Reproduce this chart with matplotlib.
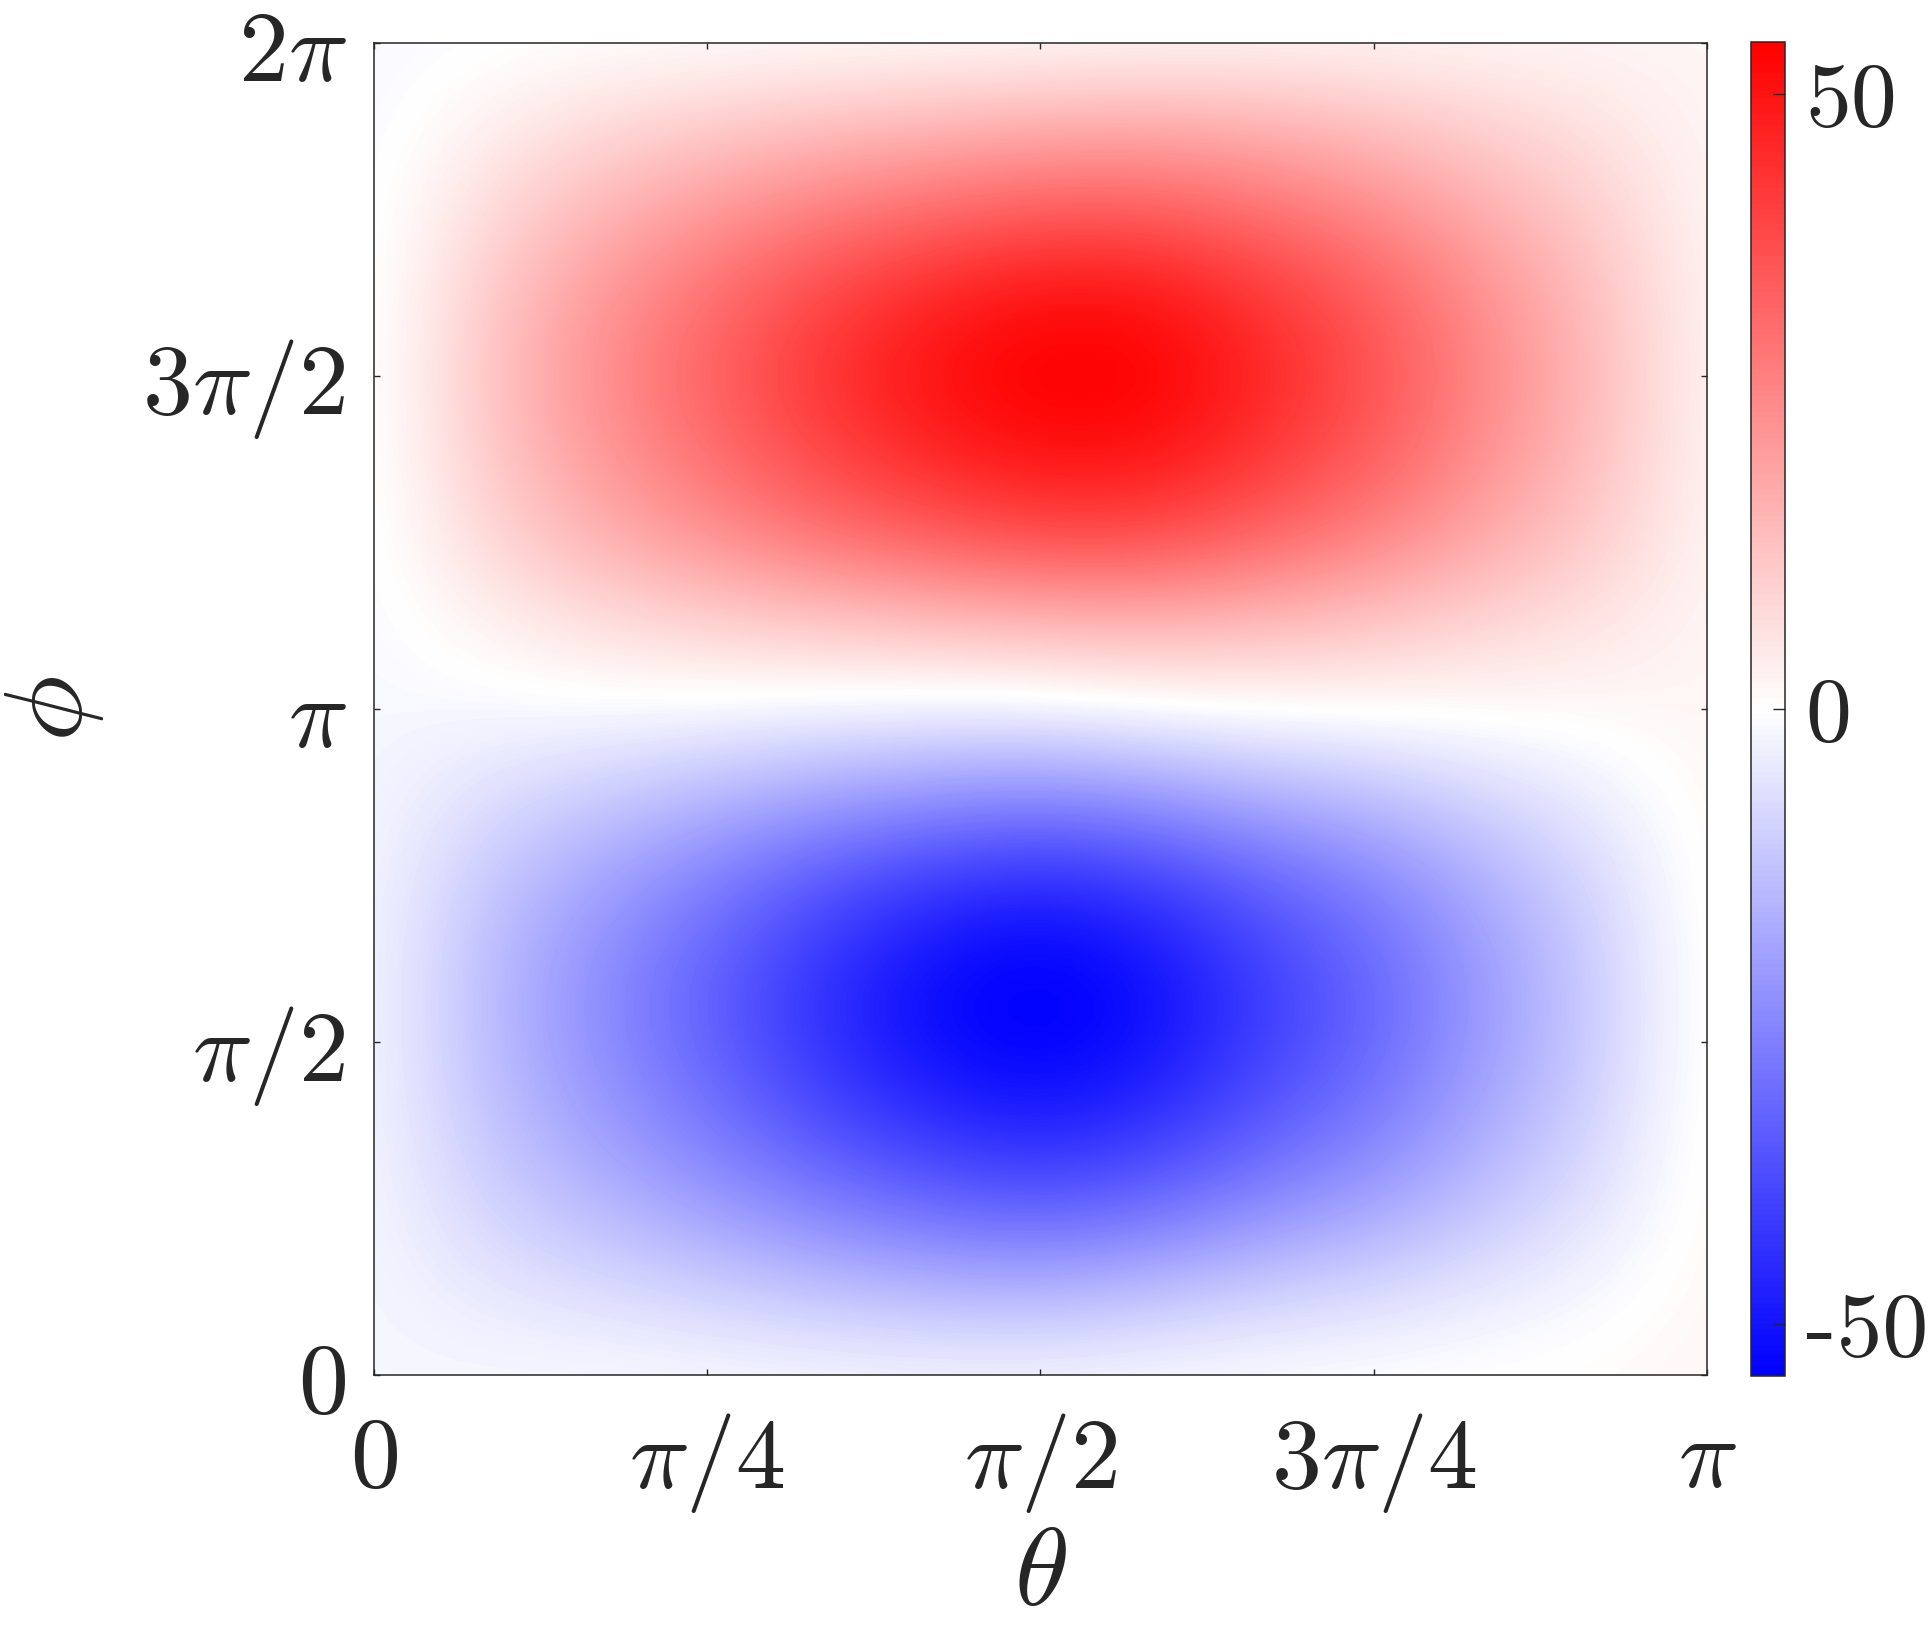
import numpy as np
import matplotlib.pyplot as plt

plt.rcParams['mathtext.fontset'] = 'cm'
plt.rcParams['axes.unicode_minus'] = False

# grid nodes: theta 0..pi (13), phi 0..2pi (17)
theta_nodes = np.linspace(0, np.pi, 13)
phi_nodes = np.linspace(0, 2 * np.pi, 17)

# field values, one row per phi node (bottom to top)
field = np.array([
    [-1.6, -1.4, -1.0, -1.2, -1.5, -1.8, -1.8, -1.0, -0.3, 0.2, 0.6, 1.1, 1.9],
    [-1.6, -4.8, -7.0, -9.6, -12.7, -15.0, -16.0, -13.6, -10.2, -7.9, -4.7, -1.7, 1.9],
    [-1.6, -9.0, -14.6, -20.3, -26.4, -31.3, -33.8, -30.5, -24.0, -19.0, -12.1, -5.8, 1.9],
    [-1.6, -12.2, -20.4, -28.3, -37.2, -44.0, -47.8, -43.6, -34.8, -27.4, -17.8, -8.9, 1.9],
    [-1.6, -14.0, -23.7, -33.2, -43.6, -52.0, -55.5, -51.2, -41.0, -32.3, -21.0, -10.7, 1.9],
    [-1.6, -13.9, -23.5, -32.9, -43.0, -51.3, -55.0, -50.6, -40.6, -32.0, -20.8, -10.6, 1.9],
    [-1.6, -11.4, -18.9, -26.3, -34.6, -40.8, -44.3, -40.3, -32.2, -25.3, -16.4, -8.2, 1.9],
    [-1.6, -6.6, -10.3, -14.3, -18.7, -21.9, -23.6, -20.8, -16.2, -12.8, -7.9, -3.5, 1.9],
    [-1.6, -1.5, -1.0, -1.3, -2.1, -2.6, -2.4, -0.7, 0.6, 0.9, 1.2, 1.5, 1.9],
    [-1.6, 2.6, 6.4, 9.0, 11.1, 12.8, 14.4, 15.2, 14.0, 11.7, 8.5, 5.5, 1.9],
    [-1.6, 7.9, 16.0, 22.3, 28.6, 33.4, 37.0, 36.8, 31.8, 25.6, 17.8, 10.7, 1.9],
    [-1.6, 10.9, 21.5, 30.3, 39.0, 46.0, 50.5, 50.0, 42.6, 34.2, 23.2, 13.6, 1.9],
    [-1.6, 12.1, 23.6, 33.3, 43.0, 51.0, 55.5, 54.8, 46.6, 37.3, 25.3, 14.8, 1.9],
    [-1.6, 10.9, 21.5, 30.3, 39.0, 46.0, 50.5, 50.0, 42.6, 34.2, 23.2, 13.6, 1.9],
    [-1.6, 7.5, 15.2, 21.4, 26.9, 31.1, 34.4, 34.2, 30.0, 24.6, 17.1, 10.3, 1.9],
    [-1.6, 3.3, 7.6, 10.7, 13.3, 15.2, 17.1, 17.8, 16.2, 13.4, 9.6, 6.2, 1.9],
    [-1.6, -0.8, 0.0, 0.4, 0.6, 0.8, 1.0, 1.6, 2.0, 2.0, 2.0, 2.0, 1.9],
])
clim = 54.2

xticks = [0, np.pi / 4, np.pi / 2, 3 * np.pi / 4, np.pi]
xlabels = ['$0$', r'$\pi/4$', r'$\pi/2$', r'$3\pi/4$', r'$\pi$']
yticks = [0, np.pi / 2, np.pi, 3 * np.pi / 2, 2 * np.pi]
ylabels = ['$0$', r'$\pi/2$', r'$\pi$', r'$3\pi/2$', r'$2\pi$']
cticks = [-50, 0, 50]
clabels = ['-50', '0', '50']

ink = '#262626'

fig = plt.figure(figsize=(19.32, 16.28), dpi=100)
ax = fig.add_axes([0.1936, 0.1554, 0.6899, 0.8182])

dth = theta_nodes[1] - theta_nodes[0]
dph = phi_nodes[1] - phi_nodes[0]
im = ax.imshow(field, origin='lower', aspect='auto', cmap='bwr',
               vmin=-clim, vmax=clim, interpolation='bicubic',
               interpolation_stage='data',
               extent=[theta_nodes[0] - dth / 2, theta_nodes[-1] + dth / 2,
                       phi_nodes[0] - dph / 2, phi_nodes[-1] + dph / 2])
ax.set_xlim(0, np.pi)
ax.set_ylim(0, 2 * np.pi)

ax.set_xticks(xticks)
ax.set_xticklabels(xlabels)
ax.set_yticks(yticks)
ax.set_yticklabels(ylabels)
ax.tick_params(direction='in', length=4, width=1, top=True, right=True,
               labelsize=72, colors=ink)
ax.tick_params(axis='x', pad=26)
ax.tick_params(axis='y', pad=20)
for s in ax.spines.values():
    s.set_linewidth(1.1)
    s.set_color(ink)

ax.set_xlabel(r'$\theta$', fontsize=80, color=ink, va='center')
ax.xaxis.set_label_coords(0.5, -0.15)
ax.set_ylabel(r'$\phi$', fontsize=80, color=ink, va='center')
ax.yaxis.set_label_coords(-0.241, 0.5)

cax = fig.add_axes([0.9063, 0.1548, 0.0176, 0.8194])
cb = fig.colorbar(im, cax=cax)
cb.set_ticks(cticks)
cax.set_yticklabels(clabels, fontfamily='cmr10', fontsize=66, color=ink)
cax.tick_params(direction='in', length=9, width=1, colors=ink, pad=15)
cb.outline.set_linewidth(1.1)
cb.outline.set_edgecolor(ink)

fig.savefig('out.png', dpi=100)
